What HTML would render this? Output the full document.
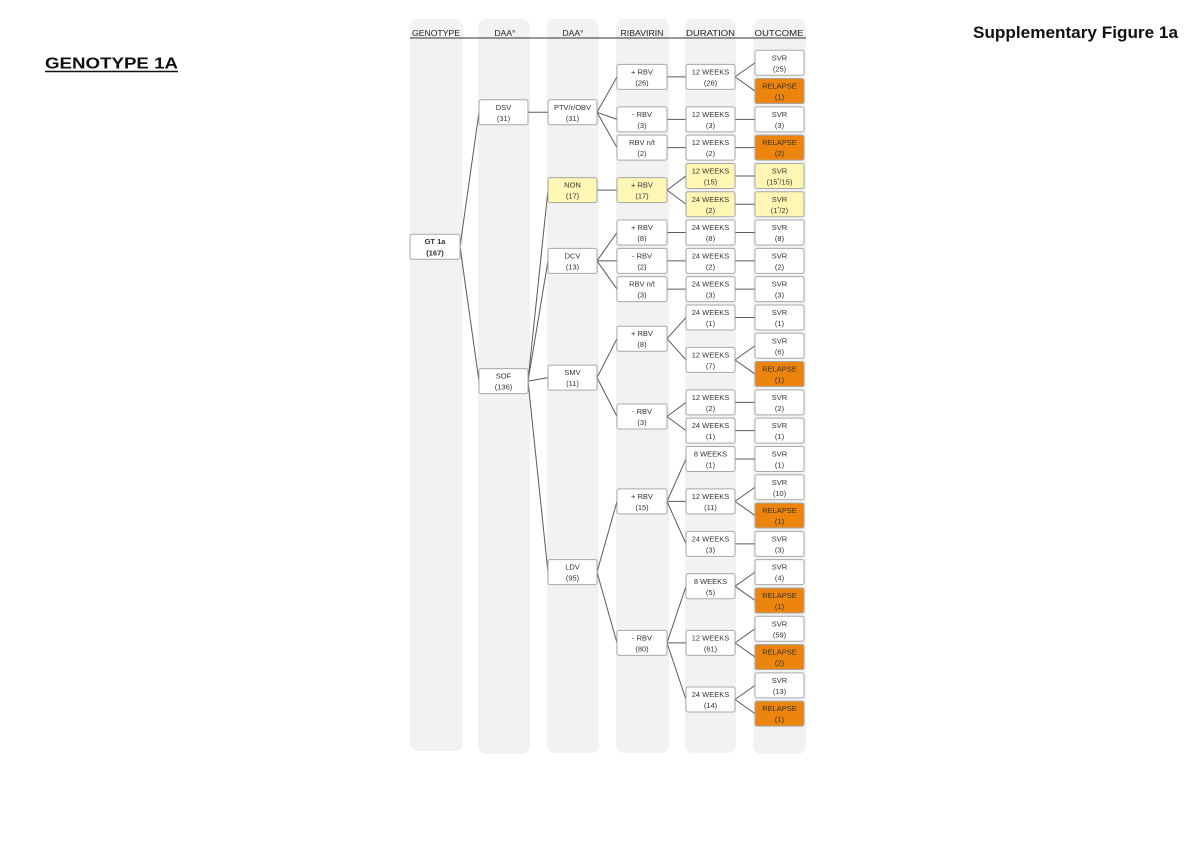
<!DOCTYPE html>
<html>
<head>
<meta charset="utf-8">
<style>
html,body{margin:0;padding:0;background:#fff;}
svg{display:block;}
.col{fill:#f2f2f2;}
.b{fill:#fff;stroke:#a8a8a8;stroke-width:1;}
.y{fill:#fff7b3;stroke:#a8a8a8;stroke-width:1;}
.o{fill:#ec840e;stroke:#a8a8a8;stroke-width:1;}
.t{font-family:"Liberation Sans",sans-serif;font-size:7.5px;text-anchor:middle;fill:#333;}
.h{font-family:"Liberation Sans",sans-serif;font-size:8.5px;text-anchor:middle;fill:#222;}
.ln line{stroke:#5a5a5a;stroke-width:1;}
</style>
</head>
<body>
<svg width="1200" height="856" viewBox="0 0 1200 856" xmlns="http://www.w3.org/2000/svg">
<rect x="0" y="0" width="1200" height="856" fill="#fff"/>

<!-- titles -->
<text x="973" y="38" font-family="Liberation Sans, sans-serif" font-size="17" font-weight="bold" fill="#111" textLength="205" lengthAdjust="spacingAndGlyphs">Supplementary Figure 1a</text>
<text x="45" y="68.5" font-family="Liberation Sans, sans-serif" font-size="15.5" font-weight="bold" fill="#111" textLength="133" lengthAdjust="spacingAndGlyphs">GENOTYPE 1A</text>
<line x1="45" y1="71.5" x2="178" y2="71.5" stroke="#111" stroke-width="1.6"/>

<!-- column backgrounds -->
<rect class="col" x="410" y="19" width="53" height="732" rx="8"/>
<rect class="col" x="478" y="19" width="52" height="735" rx="8"/>
<rect class="col" x="547" y="19" width="52" height="734" rx="8"/>
<rect class="col" x="616" y="19" width="53" height="734" rx="8"/>
<rect class="col" x="685" y="19" width="51" height="734" rx="8"/>
<rect class="col" x="753" y="19" width="53" height="735" rx="8"/>

<!-- headers -->
<text class="h" x="436" y="36" textLength="48" lengthAdjust="spacingAndGlyphs">GENOTYPE</text>
<text class="h" x="505" y="36">DAA°</text>
<text class="h" x="573" y="36">DAA°</text>
<text class="h" x="642" y="36" textLength="43" lengthAdjust="spacingAndGlyphs">RIBAVIRIN</text>
<text class="h" x="710.5" y="36" textLength="49" lengthAdjust="spacingAndGlyphs">DURATION</text>
<text class="h" x="779" y="36" textLength="49" lengthAdjust="spacingAndGlyphs">OUTCOME</text>
<line x1="410" y1="38" x2="806" y2="38" stroke="#333" stroke-width="1"/>

<!-- connectors -->
<g class="ln">
<line x1="460" y1="246.7" x2="479" y2="112.3"/>
<line x1="460" y1="246.7" x2="479" y2="381.1"/>
<line x1="528" y1="112.3" x2="548" y2="112.3"/>
<line x1="597" y1="112.3" x2="617" y2="76.9"/>
<line x1="597" y1="112.3" x2="617" y2="119.35"/>
<line x1="597" y1="112.3" x2="617" y2="147.65"/>
<line x1="667" y1="76.9" x2="686" y2="76.9"/>
<line x1="735" y1="76.9" x2="755" y2="62.75"/>
<line x1="735" y1="76.9" x2="755" y2="91.05"/>
<line x1="667" y1="119.35" x2="686" y2="119.35"/>
<line x1="735" y1="119.35" x2="755" y2="119.35"/>
<line x1="667" y1="147.65" x2="686" y2="147.65"/>
<line x1="735" y1="147.65" x2="755" y2="147.65"/>
<line x1="528" y1="381.1" x2="548" y2="190.1"/>
<line x1="528" y1="381.1" x2="548" y2="260.85"/>
<line x1="528" y1="381.1" x2="548" y2="377.6"/>
<line x1="528" y1="381.1" x2="548" y2="572.15"/>
<line x1="597" y1="190.1" x2="617" y2="190.1"/>
<line x1="667" y1="190.1" x2="686" y2="175.95"/>
<line x1="667" y1="190.1" x2="686" y2="204.25"/>
<line x1="735" y1="175.95" x2="755" y2="175.95"/>
<line x1="735" y1="204.25" x2="755" y2="204.25"/>
<line x1="597" y1="260.85" x2="617" y2="232.55"/>
<line x1="597" y1="260.85" x2="617" y2="260.85"/>
<line x1="597" y1="260.85" x2="617" y2="289.15"/>
<line x1="667" y1="232.55" x2="686" y2="232.55"/>
<line x1="735" y1="232.55" x2="755" y2="232.55"/>
<line x1="667" y1="260.85" x2="686" y2="260.85"/>
<line x1="735" y1="260.85" x2="755" y2="260.85"/>
<line x1="667" y1="289.15" x2="686" y2="289.15"/>
<line x1="735" y1="289.15" x2="755" y2="289.15"/>
<line x1="597" y1="377.6" x2="617" y2="338.7"/>
<line x1="597" y1="377.6" x2="617" y2="416.5"/>
<line x1="667" y1="338.7" x2="686" y2="317.45"/>
<line x1="667" y1="338.7" x2="686" y2="359.9"/>
<line x1="735" y1="317.45" x2="755" y2="317.45"/>
<line x1="735" y1="359.9" x2="755" y2="345.75"/>
<line x1="735" y1="359.9" x2="755" y2="374.05"/>
<line x1="667" y1="416.5" x2="686" y2="402.35"/>
<line x1="667" y1="416.5" x2="686" y2="430.65"/>
<line x1="735" y1="402.35" x2="755" y2="402.35"/>
<line x1="735" y1="430.65" x2="755" y2="430.65"/>
<line x1="597" y1="572.15" x2="617" y2="501.4"/>
<line x1="597" y1="572.15" x2="617" y2="642.9"/>
<line x1="667" y1="501.4" x2="686" y2="458.95"/>
<line x1="667" y1="501.4" x2="686" y2="501.4"/>
<line x1="667" y1="501.4" x2="686" y2="543.85"/>
<line x1="735" y1="458.95" x2="755" y2="458.95"/>
<line x1="735" y1="501.4" x2="755" y2="487.25"/>
<line x1="735" y1="501.4" x2="755" y2="515.55"/>
<line x1="735" y1="543.85" x2="755" y2="543.85"/>
<line x1="667" y1="642.9" x2="686" y2="586.3"/>
<line x1="667" y1="642.9" x2="686" y2="642.9"/>
<line x1="667" y1="642.9" x2="686" y2="699.5"/>
<line x1="735" y1="586.3" x2="755" y2="572.15"/>
<line x1="735" y1="586.3" x2="755" y2="600.45"/>
<line x1="735" y1="642.9" x2="755" y2="628.75"/>
<line x1="735" y1="642.9" x2="755" y2="657.05"/>
<line x1="735" y1="699.5" x2="755" y2="685.35"/>
<line x1="735" y1="699.5" x2="755" y2="713.65"/>
</g>

<!-- GENOTYPE -->
<rect class="b" x="410" y="234.2" width="50" height="25" rx="2"/>
<text class="t" x="435" y="244.2" font-weight="bold" font-size="8" fill="#111">GT 1a</text>
<text class="t" x="435" y="255.7" font-weight="bold" font-size="8" fill="#111">(167)</text>

<!-- DAA 1 -->
<rect class="b" x="479" y="99.8" width="49" height="25" rx="2"/>
<text class="t" x="503.5" y="109.8">DSV</text><text class="t" x="503.5" y="120.8">(31)</text>
<rect class="b" x="479" y="368.6" width="49" height="25" rx="2"/>
<text class="t" x="503.5" y="378.6">SOF</text><text class="t" x="503.5" y="389.6">(136)</text>

<!-- DAA 2 -->
<rect class="b" x="548" y="99.8" width="49" height="25" rx="2"/>
<text class="t" x="572.5" y="109.8">PTV/r/OBV</text><text class="t" x="572.5" y="120.8">(31)</text>
<rect class="y" x="548" y="177.6" width="49" height="25" rx="2"/>
<text class="t" x="572.5" y="187.6">NON</text><text class="t" x="572.5" y="198.6">(17)</text>
<rect class="b" x="548" y="248.35" width="49" height="25" rx="2"/>
<text class="t" x="572.5" y="258.35">DCV</text><text class="t" x="572.5" y="269.35">(13)</text>
<rect class="b" x="548" y="365.1" width="49" height="25" rx="2"/>
<text class="t" x="572.5" y="375.1">SMV</text><text class="t" x="572.5" y="386.1">(11)</text>
<rect class="b" x="548" y="559.65" width="49" height="25" rx="2"/>
<text class="t" x="572.5" y="569.65">LDV</text><text class="t" x="572.5" y="580.65">(95)</text>

<!-- RIBAVIRIN -->
<rect class="b" x="617" y="64.4" width="50" height="25" rx="2"/>
<text class="t" x="642" y="74.4">+ RBV</text><text class="t" x="642" y="85.4">(26)</text>
<rect class="b" x="617" y="106.85" width="50" height="25" rx="2"/>
<text class="t" x="642" y="116.85">- RBV</text><text class="t" x="642" y="127.85">(3)</text>
<rect class="b" x="617" y="135.15" width="50" height="25" rx="2"/>
<text class="t" x="642" y="145.15">RBV n/t</text><text class="t" x="642" y="156.15">(2)</text>
<rect class="y" x="617" y="177.6" width="50" height="25" rx="2"/>
<text class="t" x="642" y="187.6">+ RBV</text><text class="t" x="642" y="198.6">(17)</text>
<rect class="b" x="617" y="220.05" width="50" height="25" rx="2"/>
<text class="t" x="642" y="230.05">+ RBV</text><text class="t" x="642" y="241.05">(8)</text>
<rect class="b" x="617" y="248.35" width="50" height="25" rx="2"/>
<text class="t" x="642" y="258.35">- RBV</text><text class="t" x="642" y="269.35">(2)</text>
<rect class="b" x="617" y="276.65" width="50" height="25" rx="2"/>
<text class="t" x="642" y="286.65">RBV n/t</text><text class="t" x="642" y="297.65">(3)</text>
<rect class="b" x="617" y="326.2" width="50" height="25" rx="2"/>
<text class="t" x="642" y="336.2">+ RBV</text><text class="t" x="642" y="347.2">(8)</text>
<rect class="b" x="617" y="404" width="50" height="25" rx="2"/>
<text class="t" x="642" y="414">- RBV</text><text class="t" x="642" y="425">(3)</text>
<rect class="b" x="617" y="488.9" width="50" height="25" rx="2"/>
<text class="t" x="642" y="498.9">+ RBV</text><text class="t" x="642" y="509.9">(15)</text>
<rect class="b" x="617" y="630.4" width="50" height="25" rx="2"/>
<text class="t" x="642" y="640.4">- RBV</text><text class="t" x="642" y="651.4">(80)</text>

<!-- DURATION -->
<rect class="b" x="686" y="64.4" width="49" height="25" rx="2"/>
<text class="t" x="710.5" y="74.4">12 WEEKS</text><text class="t" x="710.5" y="85.4">(26)</text>
<rect class="b" x="686" y="106.85" width="49" height="25" rx="2"/>
<text class="t" x="710.5" y="116.85">12 WEEKS</text><text class="t" x="710.5" y="127.85">(3)</text>
<rect class="b" x="686" y="135.15" width="49" height="25" rx="2"/>
<text class="t" x="710.5" y="145.15">12 WEEKS</text><text class="t" x="710.5" y="156.15">(2)</text>
<rect class="y" x="686" y="163.45" width="49" height="25" rx="2"/>
<text class="t" x="710.5" y="173.45">12 WEEKS</text><text class="t" x="710.5" y="184.45">(15)</text>
<rect class="y" x="686" y="191.75" width="49" height="25" rx="2"/>
<text class="t" x="710.5" y="201.75">24 WEEKS</text><text class="t" x="710.5" y="212.75">(2)</text>
<rect class="b" x="686" y="220.05" width="49" height="25" rx="2"/>
<text class="t" x="710.5" y="230.05">24 WEEKS</text><text class="t" x="710.5" y="241.05">(8)</text>
<rect class="b" x="686" y="248.35" width="49" height="25" rx="2"/>
<text class="t" x="710.5" y="258.35">24 WEEKS</text><text class="t" x="710.5" y="269.35">(2)</text>
<rect class="b" x="686" y="276.65" width="49" height="25" rx="2"/>
<text class="t" x="710.5" y="286.65">24 WEEKS</text><text class="t" x="710.5" y="297.65">(3)</text>
<rect class="b" x="686" y="304.95" width="49" height="25" rx="2"/>
<text class="t" x="710.5" y="314.95">24 WEEKS</text><text class="t" x="710.5" y="325.95">(1)</text>
<rect class="b" x="686" y="347.4" width="49" height="25" rx="2"/>
<text class="t" x="710.5" y="357.4">12 WEEKS</text><text class="t" x="710.5" y="368.4">(7)</text>
<rect class="b" x="686" y="389.85" width="49" height="25" rx="2"/>
<text class="t" x="710.5" y="399.85">12 WEEKS</text><text class="t" x="710.5" y="410.85">(2)</text>
<rect class="b" x="686" y="418.15" width="49" height="25" rx="2"/>
<text class="t" x="710.5" y="428.15">24 WEEKS</text><text class="t" x="710.5" y="439.15">(1)</text>
<rect class="b" x="686" y="446.45" width="49" height="25" rx="2"/>
<text class="t" x="710.5" y="456.45">8 WEEKS</text><text class="t" x="710.5" y="467.45">(1)</text>
<rect class="b" x="686" y="488.9" width="49" height="25" rx="2"/>
<text class="t" x="710.5" y="498.9">12 WEEKS</text><text class="t" x="710.5" y="509.9">(11)</text>
<rect class="b" x="686" y="531.35" width="49" height="25" rx="2"/>
<text class="t" x="710.5" y="541.35">24 WEEKS</text><text class="t" x="710.5" y="552.35">(3)</text>
<rect class="b" x="686" y="573.8" width="49" height="25" rx="2"/>
<text class="t" x="710.5" y="583.8">8 WEEKS</text><text class="t" x="710.5" y="594.8">(5)</text>
<rect class="b" x="686" y="630.4" width="49" height="25" rx="2"/>
<text class="t" x="710.5" y="640.4">12 WEEKS</text><text class="t" x="710.5" y="651.4">(61)</text>
<rect class="b" x="686" y="687" width="49" height="25" rx="2"/>
<text class="t" x="710.5" y="697">24 WEEKS</text><text class="t" x="710.5" y="708">(14)</text>

<!-- OUTCOME -->
<rect class="b" x="755" y="50.25" width="49" height="25" rx="2"/>
<text class="t" x="779.5" y="60.25">SVR</text><text class="t" x="779.5" y="71.25">(25)</text>
<rect class="o" x="755" y="78.55" width="49" height="25" rx="2"/>
<text class="t" x="779.5" y="88.55">RELAPSE</text><text class="t" x="779.5" y="99.55">(1)</text>
<rect class="b" x="755" y="106.85" width="49" height="25" rx="2"/>
<text class="t" x="779.5" y="116.85">SVR</text><text class="t" x="779.5" y="127.85">(3)</text>
<rect class="o" x="755" y="135.15" width="49" height="25" rx="2"/>
<text class="t" x="779.5" y="145.15">RELAPSE</text><text class="t" x="779.5" y="156.15">(2)</text>
<rect class="y" x="755" y="163.45" width="49" height="25" rx="2"/>
<text class="t" x="779.5" y="173.45">SVR</text><text class="t" x="779.5" y="184.45">(15<tspan font-size="5" dy="-2.5">*</tspan><tspan dy="2.5">/15)</tspan></text>
<rect class="y" x="755" y="191.75" width="49" height="25" rx="2"/>
<text class="t" x="779.5" y="201.75">SVR</text><text class="t" x="779.5" y="212.75">(1<tspan font-size="5" dy="-2.5">*</tspan><tspan dy="2.5">/2)</tspan></text>
<rect class="b" x="755" y="220.05" width="49" height="25" rx="2"/>
<text class="t" x="779.5" y="230.05">SVR</text><text class="t" x="779.5" y="241.05">(8)</text>
<rect class="b" x="755" y="248.35" width="49" height="25" rx="2"/>
<text class="t" x="779.5" y="258.35">SVR</text><text class="t" x="779.5" y="269.35">(2)</text>
<rect class="b" x="755" y="276.65" width="49" height="25" rx="2"/>
<text class="t" x="779.5" y="286.65">SVR</text><text class="t" x="779.5" y="297.65">(3)</text>
<rect class="b" x="755" y="304.95" width="49" height="25" rx="2"/>
<text class="t" x="779.5" y="314.95">SVR</text><text class="t" x="779.5" y="325.95">(1)</text>
<rect class="b" x="755" y="333.25" width="49" height="25" rx="2"/>
<text class="t" x="779.5" y="343.25">SVR</text><text class="t" x="779.5" y="354.25">(6)</text>
<rect class="o" x="755" y="361.55" width="49" height="25" rx="2"/>
<text class="t" x="779.5" y="371.55">RELAPSE</text><text class="t" x="779.5" y="382.55">(1)</text>
<rect class="b" x="755" y="389.85" width="49" height="25" rx="2"/>
<text class="t" x="779.5" y="399.85">SVR</text><text class="t" x="779.5" y="410.85">(2)</text>
<rect class="b" x="755" y="418.15" width="49" height="25" rx="2"/>
<text class="t" x="779.5" y="428.15">SVR</text><text class="t" x="779.5" y="439.15">(1)</text>
<rect class="b" x="755" y="446.45" width="49" height="25" rx="2"/>
<text class="t" x="779.5" y="456.45">SVR</text><text class="t" x="779.5" y="467.45">(1)</text>
<rect class="b" x="755" y="474.75" width="49" height="25" rx="2"/>
<text class="t" x="779.5" y="484.75">SVR</text><text class="t" x="779.5" y="495.75">(10)</text>
<rect class="o" x="755" y="503.05" width="49" height="25" rx="2"/>
<text class="t" x="779.5" y="513.05">RELAPSE</text><text class="t" x="779.5" y="524.05">(1)</text>
<rect class="b" x="755" y="531.35" width="49" height="25" rx="2"/>
<text class="t" x="779.5" y="541.35">SVR</text><text class="t" x="779.5" y="552.35">(3)</text>
<rect class="b" x="755" y="559.65" width="49" height="25" rx="2"/>
<text class="t" x="779.5" y="569.65">SVR</text><text class="t" x="779.5" y="580.65">(4)</text>
<rect class="o" x="755" y="587.95" width="49" height="25" rx="2"/>
<text class="t" x="779.5" y="597.95">RELAPSE</text><text class="t" x="779.5" y="608.95">(1)</text>
<rect class="b" x="755" y="616.25" width="49" height="25" rx="2"/>
<text class="t" x="779.5" y="626.25">SVR</text><text class="t" x="779.5" y="637.25">(59)</text>
<rect class="o" x="755" y="644.55" width="49" height="25" rx="2"/>
<text class="t" x="779.5" y="654.55">RELAPSE</text><text class="t" x="779.5" y="665.55">(2)</text>
<rect class="b" x="755" y="672.85" width="49" height="25" rx="2"/>
<text class="t" x="779.5" y="682.85">SVR</text><text class="t" x="779.5" y="693.85">(13)</text>
<rect class="o" x="755" y="701.15" width="49" height="25" rx="2"/>
<text class="t" x="779.5" y="711.15">RELAPSE</text><text class="t" x="779.5" y="722.15">(1)</text>
</svg>
</body>
</html>
